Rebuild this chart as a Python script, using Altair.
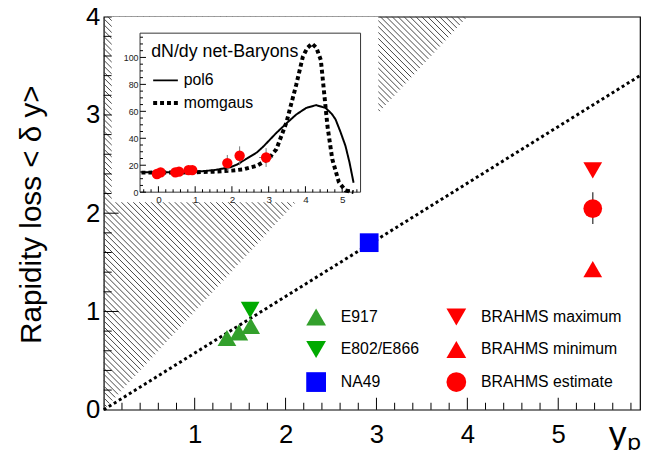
import altair as alt
import pandas as pd
import numpy as np

# ---------------- main panel data ----------------
series = ["E917", "E917", "E917", "E802/E866", "NA49",
          "BRAHMS maximum", "BRAHMS minimum", "BRAHMS estimate"]
yp = [1.355, 1.486, 1.616, 1.61, 2.92, 5.38, 5.38, 5.38]
dy = [0.73, 0.787, 0.854, 1.015, 1.70, 2.435, 1.43, 2.047]

legend_order = ["E917", "E802/E866", "NA49", "BRAHMS maximum", "BRAHMS minimum", "BRAHMS estimate"]
legend_colors = ["#33a02c", "#00aa00", "#0000ff", "#ff0000", "#ff0000", "#ff0000"]
legend_shapes = ["triangle-up", "triangle-down", "square", "triangle-down", "triangle-up", "circle"]

brahms_err_x = [5.38]
brahms_err_lo = [1.889]
brahms_err_hi = [2.214]

line_x = [0.0, 5.9]
line_y = [0.0, 3.40]

main_x_labels = [1, 2, 3, 4, 5]
main_y_labels = [0, 1, 2, 3, 4]
main_x_major = [1, 2, 3, 4, 5]
main_y_major = [1, 2, 3]
main_x_minor = [0.2, 0.4, 0.6, 0.8, 1.2, 1.4, 1.6, 1.8, 2.2, 2.4, 2.6, 2.8, 3.2, 3.4, 3.6, 3.8,
                4.2, 4.4, 4.6, 4.8, 5.2, 5.4, 5.6, 5.8]
main_y_minor = [0.2, 0.4, 0.6, 0.8, 1.2, 1.4, 1.6, 1.8, 2.2, 2.4, 2.6, 2.8, 3.2, 3.4, 3.6, 3.8]

# ---------------- inset data ----------------
inset_y = [-0.04, 0.06, 0.46, 0.56, 0.82, 0.92, 1.875, 2.21, 2.93]
inset_dndy = [13.5, 14.7, 14.7, 15.2, 16.4, 16.4, 21.6, 27.0, 25.7]
inset_err = [0, 0, 0, 0, 0, 0, 6, 7, 7]
inset_xerr = [0, 0, 0, 0, 0, 0, 0, 0, 0.19]

pol6_x = [-0.46, 0.5, 1.07, 1.52, 1.96, 2.14, 2.41, 2.68, 2.86, 3.21, 3.5, 3.75, 4.02, 4.29,
          4.55, 4.72, 4.82, 4.95, 5.09, 5.2, 5.31]
pol6_v = [14.7, 14.8, 15.2, 16.4, 18.5, 20.5, 25.0, 29.5, 34.0, 44.0, 51.5, 57.6, 62.5, 64.6,
          62.5, 58.0, 54.0, 45.0, 34.3, 22.0, 7.0]
mom_x = [-0.46, 0.5, 1.0, 1.5, 2.0, 2.32, 2.68, 2.99, 3.21, 3.48, 3.75, 3.93, 4.05, 4.18, 4.30,
         4.42, 4.51, 4.60, 4.73, 4.91, 5.09, 5.31]
mom_v = [14.5, 14.6, 14.8, 15.2, 16.0, 17.0, 19.6, 24.5, 31.9, 51.5, 79.7, 100.5, 107.0, 110.3,
         107.0, 98.0, 73.5, 49.0, 24.5, 7.4, 1.2, 0.0]

in_x_labels = [0, 1, 2, 3, 4, 5]
in_x_minor = [-0.4, -0.2, 0.2, 0.4, 0.6, 0.8, 1.2, 1.4, 1.6, 1.8, 2.2, 2.4, 2.6, 2.8, 3.2, 3.4,
              3.6, 3.8, 4.2, 4.4, 4.6, 4.8, 5.2, 5.4]
in_y_labels = [0, 20, 40, 60, 80, 100]
in_y_minor = [5, 10, 15, 25, 30, 35, 45, 50, 55, 65, 70, 75, 85, 90, 95, 105, 110, 115]

# ---------------- layout ----------------
W, H = 543, 398
X_MAX = 5.9
FONT = "Liberation Sans"

xs_main = alt.Scale(domain=[0, X_MAX], nice=False, zero=False)
ys_main = alt.Scale(domain=[0, 4], nice=False, zero=False)

# hatch of the forbidden region (dy > yp)
px_x = W / X_MAX
px_y = H / 4.0
k = px_x / px_y
step = 6.0 / px_y
rows = []
c = step
while c < 4 * (1 + k):
    if c <= 4:
        x0, y0 = 0.0, c
    else:
        x0, y0 = (c - 4) / k, 4.0
    x1 = c / (1 + k)
    if x1 > x0:
        rows.append({"x": x0, "y": y0, "x2": x1, "y2": x1})
    c += step
hatch_df = pd.DataFrame(rows)

ax_lab_x = alt.Axis(orient="bottom", values=main_x_labels, ticks=False, tickSize=0, domain=False,
                    grid=False, labelFontSize=26, labelPadding=12, labelColor="black",
                    labelFont=FONT, title="yₚ", titleFontSize=36, titleFont=FONT,
                    titleFontWeight="normal", titleX=527, titleY=36, titleAlign="center",
                    titleBaseline="alphabetic", titleColor="black", zindex=2)
ax_lab_y = alt.Axis(orient="left", values=main_y_labels, ticks=False, tickSize=0, domain=False,
                    grid=False, labelFontSize=26, labelPadding=4, labelColor="black",
                    labelFont=FONT, title="Rapidity loss < δ y>", titleFontSize=30,
                    titleFont=FONT, titleFontWeight="normal", titleX=-64, titleY=200,
                    titleAlign="center", titleBaseline="alphabetic", titleAngle=270,
                    titleColor="black", zindex=2)

hatch = alt.Chart(hatch_df).mark_rule(color="#444444", strokeWidth=1).encode(
    x=alt.X("x:Q", scale=xs_main, axis=ax_lab_x),
    y=alt.Y("y:Q", scale=ys_main, axis=ax_lab_y),
    x2="x2:Q", y2="y2:Q")


def xticks(values, xscale, base, length):
    df = pd.DataFrame({"v": values})
    return alt.Chart(df).mark_tick(orient="vertical", color="black", size=length, thickness=1,
                                   opacity=1).encode(
        x=alt.X("v:Q", scale=xscale, axis=None), y=alt.value(base - length / 2.0))


def yticks(values, yscale, base, length):
    df = pd.DataFrame({"v": values})
    return alt.Chart(df).mark_tick(orient="horizontal", color="black", size=length, thickness=1,
                                   opacity=1).encode(
        y=alt.Y("v:Q", scale=yscale, axis=None), x=alt.value(base + length / 2.0))


mx_major = xticks(main_x_major, xs_main, H, 12)
mx_minor = xticks(main_x_minor, xs_main, H, 7)
my_major = yticks(main_y_major, ys_main, 0, 15)
my_minor = yticks(main_y_minor, ys_main, 0, 8)

line_df = pd.DataFrame({"x": line_x, "y": line_y})
dline = alt.Chart(line_df).mark_line(color="black", strokeWidth=3, strokeDash=[3, 3]).encode(
    x=alt.X("x:Q", scale=xs_main, axis=None),
    y=alt.Y("y:Q", scale=ys_main, axis=None))

err_df = pd.DataFrame({"x": brahms_err_x, "lo": brahms_err_lo, "hi": brahms_err_hi})
err = alt.Chart(err_df).mark_rule(color="#555555", strokeWidth=1.5).encode(
    x=alt.X("x:Q", scale=xs_main, axis=None),
    y=alt.Y("lo:Q", scale=ys_main, axis=None), y2="hi:Q")

main_df = pd.DataFrame({"series": series, "yp": yp, "dy": dy})
leg = alt.Legend(orient="none", legendX=205, legendY=294, columns=2, columnPadding=27,
                 rowPadding=14, symbolSize=400, symbolStrokeWidth=0, symbolOpacity=1,
                 labelFontSize=16, labelFont=FONT, labelColor="black", labelOffset=15,
                 title=None, padding=0, labelLimit=300)
pts = alt.Chart(main_df).mark_point(filled=True, opacity=1, size=360, strokeWidth=0).encode(
    x=alt.X("yp:Q", scale=xs_main, axis=None),
    y=alt.Y("dy:Q", scale=ys_main, axis=None),
    color=alt.Color("series:N", scale=alt.Scale(domain=legend_order, range=legend_colors), legend=leg),
    shape=alt.Shape("series:N", scale=alt.Scale(domain=legend_order, range=legend_shapes), legend=leg))

main = alt.layer(hatch, mx_major, mx_minor, my_major, my_minor, dline, err, pts).resolve_axis(
    x="independent", y="independent")

# ---------------- inset ----------------
IX0, IX1 = 36.7, 260.0
IY0, IY1 = 177.7, 16.7
xs_in = alt.Scale(domain=[-0.5, 5.5], range=[IX0, IX1], nice=False, zero=False)
ys_in = alt.Scale(domain=[0, 118], range=[IY0, IY1], nice=False, zero=False)

one = pd.DataFrame({"x0": [-0.5], "x1": [5.5], "y0": [0], "y1": [118]})
canvas = alt.Chart(one).mark_rect(fill="white", strokeWidth=0).encode(
    x=alt.value(8), x2=alt.value(278), y=alt.value(0), y2=alt.value(188))

in_lab_x = alt.Axis(orient="bottom", offset=IY0 - H, values=in_x_labels, ticks=False, tickSize=0,
                    domain=False, grid=False, labelFontSize=10, labelPadding=2, labelFont=FONT,
                    labelColor="#222222", title=None, zindex=2)
in_lab_y = alt.Axis(orient="left", offset=-IX0, values=in_y_labels, ticks=False, tickSize=0,
                    domain=False, grid=False, labelFontSize=9, labelPadding=2, labelFont=FONT,
                    labelColor="#222222", title=None, zindex=2)
frame = alt.Chart(one).mark_rect(fill="white", stroke="#333333", strokeWidth=1).encode(
    x=alt.X("x0:Q", scale=xs_in, axis=in_lab_x), x2="x1:Q",
    y=alt.Y("y0:Q", scale=ys_in, axis=in_lab_y), y2="y1:Q")

ix_major = xticks(in_x_labels, xs_in, IY0, 6)
ix_minor = xticks(in_x_minor, xs_in, IY0, 3)
iy_major = yticks(in_y_labels, ys_in, IX0, 6)
iy_minor = yticks(in_y_minor, ys_in, IX0, 3)

curve_df = pd.concat([
    pd.DataFrame({"x": pol6_x, "v": pol6_v, "fit": "pol6"}),
    pd.DataFrame({"x": mom_x, "v": mom_v, "fit": "momgaus"}),
])
in_leg = alt.Legend(orient="none", legendX=48, legendY=27, title="dN/dy net-Baryons",
                    titleFontSize=18, titleFont=FONT, titleFontWeight="normal", titleColor="black",
                    titlePadding=6, labelFontSize=16, labelFont=FONT, labelColor="black",
                    symbolType="stroke", symbolSize=625, symbolStrokeWidth=3,
                    symbolStrokeColor="black", rowPadding=0, labelOffset=4, padding=0,
                    titleLimit=300)
curves = alt.Chart(curve_df).mark_line(color="black").encode(
    x=alt.X("x:Q", scale=xs_in, axis=None),
    y=alt.Y("v:Q", scale=ys_in, axis=None),
    strokeDash=alt.StrokeDash("fit:N", scale=alt.Scale(domain=["pol6", "momgaus"],
                                                       range=[[1, 0], [4, 3]]), legend=in_leg),
    strokeWidth=alt.StrokeWidth("fit:N", scale=alt.Scale(domain=["pol6", "momgaus"],
                                                         range=[2, 4]), legend=None),
    detail="fit:N")

ipts_df = pd.DataFrame({"x": inset_y, "v": inset_dndy, "e": inset_err, "xe": inset_xerr})
ipts_df["lo"] = ipts_df["v"] - ipts_df["e"]
ipts_df["hi"] = ipts_df["v"] + ipts_df["e"]
ipts_df["xl"] = ipts_df["x"] - ipts_df["xe"]
ipts_df["xh"] = ipts_df["x"] + ipts_df["xe"]
ierr_v = alt.Chart(ipts_df).mark_rule(color="#777777", strokeWidth=1).encode(
    x=alt.X("x:Q", scale=xs_in, axis=None),
    y=alt.Y("lo:Q", scale=ys_in, axis=None), y2="hi:Q")
ierr_h = alt.Chart(ipts_df).mark_rule(color="#777777", strokeWidth=1).encode(
    x=alt.X("xl:Q", scale=xs_in, axis=None), x2="xh:Q",
    y=alt.Y("v:Q", scale=ys_in, axis=None))
ipts = alt.Chart(ipts_df).mark_circle(color="#ff0000", opacity=1, size=110).encode(
    x=alt.X("x:Q", scale=xs_in, axis=None),
    y=alt.Y("v:Q", scale=ys_in, axis=None))

inset = alt.layer(canvas, frame, ix_major, ix_minor, iy_major, iy_minor, curves,
                  ierr_v, ierr_h, ipts).resolve_axis(x="independent", y="independent")

chart = alt.layer(main, inset).resolve_scale(x="independent", y="independent").properties(
    width=W, height=H,
    padding={"left": 97, "top": 6, "right": 2, "bottom": 38},
    autosize=alt.AutoSizeParams(type="none"),
    background="white",
).configure_view(stroke="black", strokeWidth=1.2)

chart.save("out.html", embed_options={"renderer": "svg", "actions": False})
